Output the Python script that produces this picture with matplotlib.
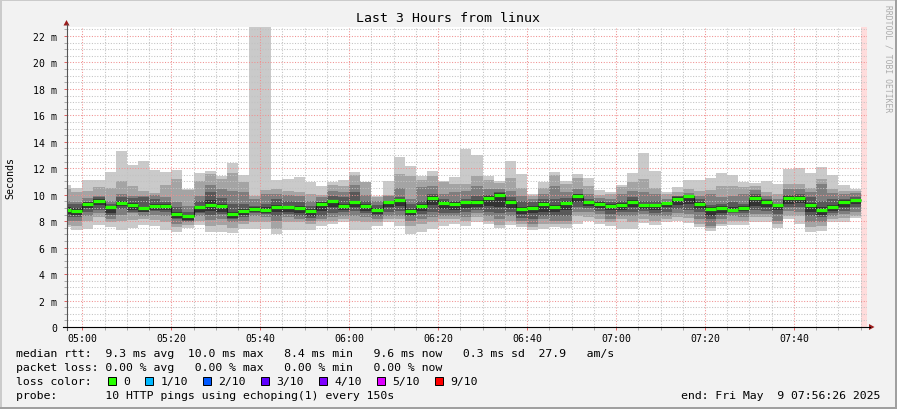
import numpy as np
import matplotlib
matplotlib.use("Agg")
import matplotlib.pyplot as plt
from matplotlib.patches import Rectangle, Polygon
from matplotlib.lines import Line2D

# ---------------- data (milliseconds) ----------------
# 10 sorted pings per 150 s step, p1 = fastest ... p10 = slowest
p1 = [7.53, 7.36, 7.41, 7.71, 7.53, 7.36, 7.46, 7.71, 7.61, 7.36, 7.20, 7.46, 7.71, 7.15, 7.20, 7.10, 7.41, 7.41, 7.41, 7.03,
      7.36, 7.36, 7.36, 7.61, 7.78, 7.91, 7.36, 7.36, 7.61, 7.96, 7.61, 7.03, 7.20, 7.41, 7.61, 7.78, 7.61, 7.91, 7.78, 7.46,
      7.71, 7.53, 7.36, 7.41, 7.53, 7.46, 7.78, 8.04, 7.78, 7.61, 7.41, 7.41, 7.86, 7.71, 7.96, 8.04, 7.86, 7.53, 7.28, 7.61,
      7.71, 7.71, 7.96, 7.91, 7.46, 8.16, 7.78, 7.20, 7.28, 7.96, 7.96, 8.21]
p2 = [7.71, 7.66, 8.04, 8.29, 7.96, 8.04, 8.11, 8.16, 8.11, 7.96, 7.53, 7.71, 8.04, 7.61, 7.71, 7.46, 7.78, 7.96, 7.91, 7.41,
      7.91, 7.91, 7.78, 8.04, 8.04, 8.16, 8.04, 7.96, 7.91, 8.16, 8.16, 7.66, 7.78, 7.96, 8.16, 8.16, 8.04, 8.29, 8.04, 7.71,
      8.04, 7.78, 7.53, 7.78, 7.78, 7.78, 8.41, 8.29, 8.16, 7.91, 8.16, 7.96, 8.16, 8.04, 8.16, 8.29, 8.21, 7.78, 7.46, 7.78,
      8.04, 8.04, 8.29, 8.29, 7.78, 8.41, 8.41, 7.53, 7.61, 8.16, 8.21, 8.36]
p3 = [8.04, 8.04, 8.41, 8.62, 8.16, 8.46, 8.62, 8.41, 8.46, 8.36, 7.78, 7.96, 8.36, 8.11, 8.16, 7.91, 8.04, 8.36, 8.29, 8.04,
      8.29, 8.16, 8.04, 8.16, 8.29, 8.41, 8.41, 8.29, 8.16, 8.41, 8.41, 8.04, 8.16, 8.29, 8.36, 8.41, 8.29, 8.62, 8.41, 8.16,
      8.36, 8.04, 7.78, 8.16, 8.04, 8.04, 8.67, 8.67, 8.54, 8.16, 8.41, 8.36, 8.54, 8.36, 8.41, 8.62, 8.54, 8.16, 7.66, 8.16,
      8.36, 8.29, 8.54, 8.54, 8.04, 8.79, 8.67, 7.91, 7.91, 8.36, 8.54, 8.72]
p4 = [8.29, 8.29, 8.72, 8.87, 8.46, 8.92, 8.72, 8.72, 8.79, 8.72, 8.16, 8.04, 8.62, 8.46, 8.54, 8.16, 8.29, 8.62, 8.54, 8.41,
      8.54, 8.41, 8.21, 8.41, 8.62, 8.67, 8.79, 8.62, 8.41, 8.67, 8.79, 8.41, 8.54, 8.67, 8.62, 8.62, 8.67, 8.87, 8.72, 8.62,
      8.72, 8.21, 8.16, 8.41, 8.36, 8.41, 9.04, 8.97, 8.79, 8.54, 8.67, 8.72, 8.79, 8.62, 8.72, 8.92, 8.87, 8.72, 8.16, 8.46,
      8.62, 8.62, 8.87, 8.79, 8.54, 9.04, 9.04, 8.41, 8.29, 8.62, 8.79, 9.04]
p5 = [8.54, 8.46, 8.99, 9.22, 8.62, 9.12, 8.87, 8.67, 8.87, 8.87, 8.21, 8.06, 8.72, 8.79, 8.67, 8.21, 8.46, 8.67, 8.62, 8.67,
      8.67, 8.62, 8.41, 8.79, 9.04, 8.87, 9.04, 8.79, 8.54, 9.04, 9.17, 8.46, 8.79, 9.22, 8.92, 8.87, 8.97, 9.04, 9.17, 9.04,
      8.97, 8.54, 8.62, 8.72, 8.67, 8.87, 9.42, 9.17, 8.97, 8.87, 8.87, 9.04, 8.92, 8.87, 9.04, 9.22, 9.30, 8.92, 8.41, 8.62,
      8.72, 8.79, 9.17, 9.04, 8.87, 9.30, 9.37, 8.72, 8.46, 8.79, 9.04, 9.30]
p6 = [9.04, 8.99, 9.42, 9.67, 9.09, 9.55, 9.37, 9.09, 9.27, 9.27, 8.67, 8.46, 9.17, 9.62, 9.30, 8.72, 8.92, 9.04, 9.04, 9.22,
      9.17, 9.12, 8.92, 9.42, 9.62, 9.30, 9.55, 9.30, 8.97, 9.52, 9.67, 8.92, 9.30, 9.93, 9.50, 9.42, 9.55, 9.60, 9.88, 10.10,
      9.60, 9.04, 9.17, 9.42, 9.22, 9.52, 10.05, 9.55, 9.42, 9.27, 9.35, 9.60, 9.32, 9.32, 9.40, 9.80, 9.98, 9.47, 9.04, 9.12,
      9.04, 9.12, 9.88, 9.60, 9.27, 9.88, 9.93, 9.35, 9.04, 9.22, 9.60, 9.70]
p7 = [9.30, 9.30, 9.42, 9.80, 9.30, 9.80, 9.72, 9.80, 9.67, 9.42, 9.04, 8.67, 9.55, 10.18, 9.72, 9.30, 9.30, 9.17, 9.30, 9.67,
      9.55, 9.42, 9.17, 9.42, 9.93, 9.80, 10.18, 9.55, 9.22, 9.55, 9.80, 9.30, 9.55, 10.05, 9.67, 9.55, 9.67, 9.93, 9.98, 10.18,
      9.80, 9.55, 9.42, 9.67, 9.67, 9.72, 10.05, 9.67, 9.55, 9.42, 9.55, 9.80, 9.55, 9.55, 9.42, 9.88, 9.98, 9.67, 9.22, 9.30,
      9.47, 9.30, 10.05, 9.67, 9.30, 9.98, 10.05, 9.80, 9.55, 9.67, 9.67, 9.80]
p8 = [9.55, 9.47, 9.72, 9.88, 9.55, 10.05, 9.88, 9.93, 9.98, 9.80, 9.42, 9.17, 9.93, 10.73, 10.43, 10.30, 10.18, 9.67, 10.05, 10.05,
      9.98, 9.93, 9.55, 9.80, 10.30, 10.18, 10.73, 9.98, 9.55, 9.88, 10.48, 9.67, 10.56, 10.68, 10.05, 10.18, 10.30, 10.68, 10.43, 10.43,
      10.30, 9.93, 9.67, 10.05, 10.68, 10.18, 10.43, 10.05, 9.72, 9.67, 10.05, 10.30, 10.18, 10.05, 9.67, 9.93, 10.13, 9.93, 10.05, 9.80,
      9.88, 10.05, 10.38, 9.93, 9.67, 10.43, 10.43, 10.18, 10.81, 10.13, 10.05, 10.13]
p9 = [10.43, 10.23, 10.30, 10.56, 10.48, 11.06, 10.63, 10.30, 10.13, 10.73, 11.19, 10.38, 11.06, 11.56, 11.19, 11.64, 10.93, 9.88, 10.38, 10.43,
      10.30, 10.18, 10.05, 9.98, 10.73, 10.63, 11.49, 10.93, 9.80, 9.98, 11.56, 11.44, 11.14, 11.39, 10.93, 10.81, 10.81, 11.44, 11.14, 10.88,
      11.24, 10.48, 9.88, 10.48, 11.49, 10.81, 11.24, 10.68, 9.98, 10.05, 10.56, 10.98, 11.19, 10.48, 10.05, 10.23, 10.43, 10.30, 10.38, 10.68,
      10.68, 10.56, 10.68, 10.18, 10.05, 10.81, 10.81, 10.48, 11.19, 10.43, 10.30, 10.30]
p10 = [10.73, 10.53, 11.14, 11.14, 11.69, 13.33, 12.24, 12.55, 11.89, 11.74, 11.89, 10.43, 11.64, 11.82, 11.44, 12.40, 11.49, 22.90, 22.90, 11.14,
       11.19, 11.36, 10.93, 10.68, 10.93, 11.14, 11.74, 10.98, 9.93, 11.04, 12.82, 12.14, 11.39, 11.79, 11.04, 11.36, 13.45, 13.00, 11.44, 11.06,
       12.55, 11.56, 10.05, 10.93, 11.74, 11.06, 11.56, 11.24, 10.38, 10.18, 10.73, 11.64, 13.15, 11.82, 10.23, 10.55, 11.14, 11.14, 11.24, 11.64,
       11.49, 10.98, 10.88, 11.04, 10.81, 11.94, 11.99, 11.64, 12.07, 11.49, 10.73, 10.43]
median = [8.84, 8.79, 9.30, 9.55, 9.04, 9.37, 9.25, 8.99, 9.12, 9.12, 8.54, 8.36, 9.04, 9.25, 9.12, 8.57, 8.79, 8.89, 8.84, 9.09,
          9.04, 8.97, 8.79, 9.30, 9.50, 9.17, 9.42, 9.17, 8.84, 9.47, 9.57, 8.79, 9.17, 9.75, 9.37, 9.27, 9.42, 9.47, 9.77, 9.98,
          9.47, 8.92, 9.02, 9.30, 9.09, 9.37, 9.93, 9.42, 9.30, 9.14, 9.22, 9.47, 9.19, 9.19, 9.35, 9.67, 9.88, 9.32, 8.89, 8.99,
          8.87, 8.99, 9.72, 9.47, 9.22, 9.75, 9.77, 9.19, 8.87, 9.07, 9.47, 9.57]

step_minutes = 2.5            # 150 s probe interval
first_step_start = -5.0       # minutes relative to 05:00 (04:55:00)
view_start = -3.567           # 04:56:26
view_end = 176.433            # 07:56:26
unknown_from = 175.0          # last complete step ends 07:55:00

x_tick_labels = ['05:00', '05:20', '05:40', '06:00', '06:20', '06:40', '07:00', '07:20', '07:40']
y_tick_values = [0, 2, 4, 6, 8, 10, 12, 14, 16, 18, 20, 22]
y_top = 22.68

smoke_colors = ['#cacaca', '#a4a4a4', '#7e7e7e', '#585858', '#323232']
loss_labels = ['0', '1/10', '2/10', '3/10', '4/10', '5/10', '9/10']
loss_colors = ['#26ff00', '#00b8ff', '#0059ff', '#5e00ff', '#7e00ff', '#dd00ff', '#ff0000']

title = 'Last 3 Hours from linux'
legend_lines = [
    'median rtt:  9.3 ms avg  10.0 ms max   8.4 ms min   9.6 ms now   0.3 ms sd  27.9   am/s',
    'packet loss: 0.00 % avg   0.00 % max   0.00 % min   0.00 % now',
    'loss color:',
    'probe:       10 HTTP pings using echoping(1) every 150s',
]
end_text = 'end: Fri May  9 07:56:26 2025'

# ---------------- figure ----------------
MONO = 'DejaVu Sans Mono'
plt.rcParams['font.family'] = MONO

W, H, DPI = 897, 410, 100
fig = plt.figure(figsize=(W / DPI, H / DPI), dpi=DPI)
fig.patch.set_facecolor('#f2f2f2')


def fx(px):
    return px / W


def fy(py):
    return 1 - py / H


L, R, T, B = 66.5, 867.0, 28.0, 328.0
ax = fig.add_axes([fx(L), fy(B), (R - L) / W, (B - T) / H])
ax.set_facecolor('white')

n = len(median)
edges = first_step_start + step_minutes * np.arange(n + 1)
pings = [np.array(p) for p in (p1, p2, p3, p4, p5, p6, p7, p8, p9, p10)]

for i, col in enumerate(smoke_colors):
    ax.stairs(pings[9 - i], edges, baseline=pings[i], fill=True,
              color=col, linewidth=0, zorder=1)

ax.axvspan(unknown_from, view_end, color='#ffdcdc', linewidth=0, zorder=0.5)

med = np.array(median)
ax.stairs(med, edges, baseline=None, color='#1a1a1a', linewidth=0.8, zorder=3)
lc = ax.hlines(med, edges[:-1], edges[1:], colors=loss_colors[0], linewidth=2.3, zorder=4)
lc.set_capstyle('butt')

ax.set_xlim(view_start, view_end)
ax.set_ylim(0, y_top)

x_major = [(int(s[:2]) - 5) * 60 + int(s[3:]) for s in x_tick_labels]
x_minor = [m for m in np.arange(5, view_end, 5) if m % 20 != 0]
y_minor = [v for v in np.arange(0.5, y_top, 0.5) if v % 2 != 0]

ax.set_xticks(x_major)
ax.set_xticklabels(x_tick_labels)
ax.set_xticks(x_minor, minor=True)
ax.set_yticks(y_tick_values)
ax.set_yticklabels(['0' if v == 0 else f'{v} m' for v in y_tick_values])
ax.set_yticks(y_minor, minor=True)

ax.set_axisbelow(False)
ax.grid(which='major', color='#f09090', linestyle=(0, (1, 1.6)), linewidth=0.75)
ax.grid(which='minor', color='#c2c2c2', linestyle=(0, (1, 1.6)), linewidth=0.75)

ax.tick_params(which='both', direction='out', length=2, width=0.7)
ax.tick_params(which='major', color='#e06060')
ax.tick_params(which='minor', color='#a8a8a8')
ax.tick_params(axis='y', which='major', pad=4.5, labelsize=7.1)
ax.tick_params(axis='x', which='major', pad=2.2, labelsize=7.1)
for sp in ax.spines.values():
    sp.set_visible(False)

# axis lines and arrows
fig.add_artist(Line2D([fx(L), fx(L)], [fy(331), fy(25)], color='#555555', lw=0.8))
fig.add_artist(Line2D([fx(63), fx(870)], [fy(B), fy(B)], color='#000000', lw=0.8))
arrow_col = '#9c1c1c'
fig.add_artist(Polygon([[fx(L - 3), fy(26.5)], [fx(L + 3), fy(26.5)], [fx(L), fy(21)]],
                       closed=True, transform=fig.transFigure, color=arrow_col, lw=0))
fig.add_artist(Polygon([[fx(869), fy(B - 3)], [fx(869), fy(B + 3)], [fx(874.5), fy(B)]],
                       closed=True, transform=fig.transFigure, color=arrow_col, lw=0))

# texts
fig.text(fx(448), fy(19), title, ha='center', va='center', fontsize=9.5, color='#000000')
fig.text(fx(10), fy(178), 'Seconds', rotation=90, ha='center', va='center', fontsize=7.2)
fig.text(fx(887.5), fy(5), 'RRDTOOL / TOBI OETIKER', rotation=270, ha='center', va='top',
         fontsize=5.8, color='#ababab')

LEG_FS = 8.25
line_y = [354.3, 368.3, 382.3, 396.3]
for txt, yy in zip(legend_lines, line_y):
    fig.text(fx(16), fy(yy), txt, ha='left', va='center', fontsize=LEG_FS)
fig.text(fx(880), fy(line_y[3]), end_text, ha='right', va='center', fontsize=LEG_FS)

char_w = 6.95
bx = 108.3
for lab, col in zip(loss_labels, loss_colors):
    fig.add_artist(Rectangle((fx(bx), fy(line_y[2] + 4)), 8 / W, 8 / H, transform=fig.transFigure,
                             facecolor=col, edgecolor='#000000', linewidth=0.7))
    tx = bx + 15
    fig.text(fx(tx), fy(line_y[2]), lab, ha='left', va='center', fontsize=LEG_FS)
    bx = tx + len(lab) * char_w + 15.2

# frame
fig.add_artist(Rectangle((0, 1 - 2 / H), 1, 2 / H, transform=fig.transFigure, color='#cbcbcb', lw=0))
fig.add_artist(Rectangle((0, 0), 2 / W, 1, transform=fig.transFigure, color='#cbcbcb', lw=0))
fig.add_artist(Rectangle((0, 0), 1, 2.5 / H, transform=fig.transFigure, color='#a0a0a0', lw=0))
fig.add_artist(Rectangle((1 - 2.5 / W, 0), 2.5 / W, 1, transform=fig.transFigure, color='#a0a0a0', lw=0))

fig.savefig('out.png', dpi=DPI, facecolor=fig.get_facecolor())
